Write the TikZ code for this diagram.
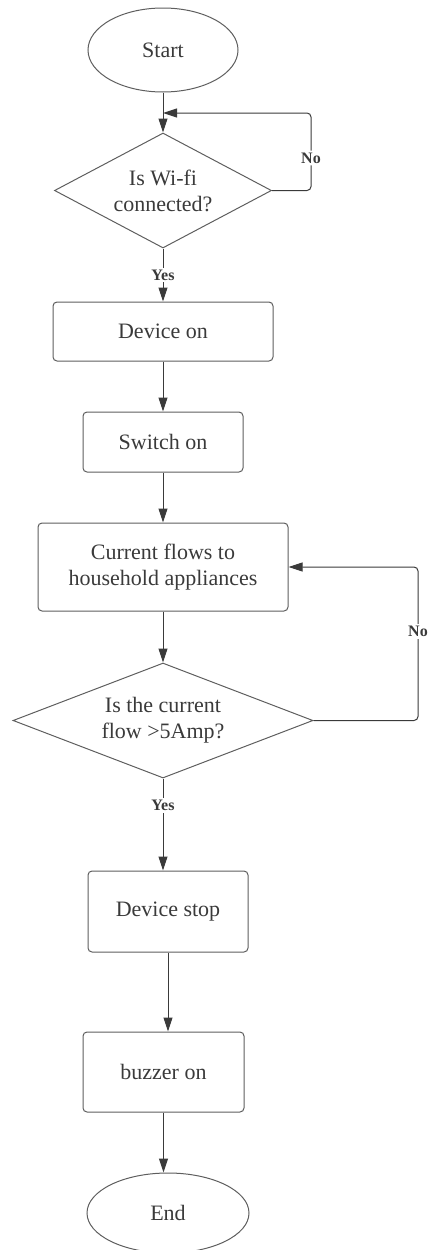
\documentclass[tikz,border=0pt]{standalone}
\usepackage{fontspec}
\setmainfont{Liberation Serif}
\usetikzlibrary{shapes.geometric,arrows.meta,calc}
\definecolor{ink}{HTML}{3A3A3A}
\definecolor{edgecol}{HTML}{5E5E5E}
\begin{document}
\begin{tikzpicture}[x=1pt,y=-1pt,
 every node/.style={font=\fontsize{22}{26}\selectfont, text=ink, align=center},
 term/.style={ellipse, draw=edgecol, line width=1pt, inner sep=0pt},
 proc/.style={rectangle, rounded corners=4pt, draw=edgecol, line width=1pt, inner sep=0pt},
 decision/.style={diamond, draw=edgecol, line width=1pt, inner sep=0pt},
 flow/.style={draw=ink, line width=1pt, -{Triangle[width=9pt,length=14pt]}},
 lbl/.style={font=\fontsize{16}{18}\selectfont\bfseries, fill=white, inner sep=2pt}
]
\useasboundingbox (0,0) rectangle (433,1250);
\node[term, minimum width=150pt, minimum height=84pt] (start) at (163,50) {Start};
\node[decision, aspect=1.9, minimum width=217pt, minimum height=115pt] (d1) at (163,190.5) {Is Wi-fi\\connected?};
\node[proc, minimum width=220pt, minimum height=59pt] (don) at (163,331.5) {Device on};
\node[proc, minimum width=160pt, minimum height=60pt] (son) at (163,442) {Switch on};
\node[proc, minimum width=250pt, minimum height=88pt] (cur) at (163,567) {Current flows to\\household appliances};
\node[decision, aspect=2.6, minimum width=300pt, minimum height=115pt] (d2) at (163,720.5) {Is the current\\flow >5Amp?};
\node[proc, minimum width=160pt, minimum height=81pt] (dstop) at (168,911.5) {Device stop};
\node[proc, minimum width=161pt, minimum height=80pt] (buz) at (163.5,1072) {buzzer on};
\node[term, minimum width=162pt, minimum height=80pt] (end) at (168,1213) {End};

\coordinate (j1) at (163,113);
\coordinate (c1) at (311,113);
\coordinate (c2) at (418,567);

\draw[flow] (start.south) -- (d1.north);
\draw[flow, rounded corners=4pt] (d1.east) -- (d1.east -| c1) -- node[lbl, pos=0.42] {No} (c1) -- (j1);
\draw[flow] (d1.south) -- node[lbl] {Yes} (don.north);
\draw[flow] (don.south) -- (son.north);
\draw[flow] (son.south) -- (cur.north);
\draw[flow] (cur.south) -- (d2.north);
\draw[flow, rounded corners=4pt] (d2.east) -- (d2.east -| c2) -- node[lbl, pos=0.58] {No} (c2) -- (cur.east);
\draw[flow] (d2.south) -- node[lbl, pos=0.29] {Yes} (d2.south |- dstop.north);
\draw[flow] (dstop.south) -- (dstop.south |- buz.north);
\draw[flow] (buz.south) -- (buz.south |- end.north);
\end{tikzpicture}
\end{document}
